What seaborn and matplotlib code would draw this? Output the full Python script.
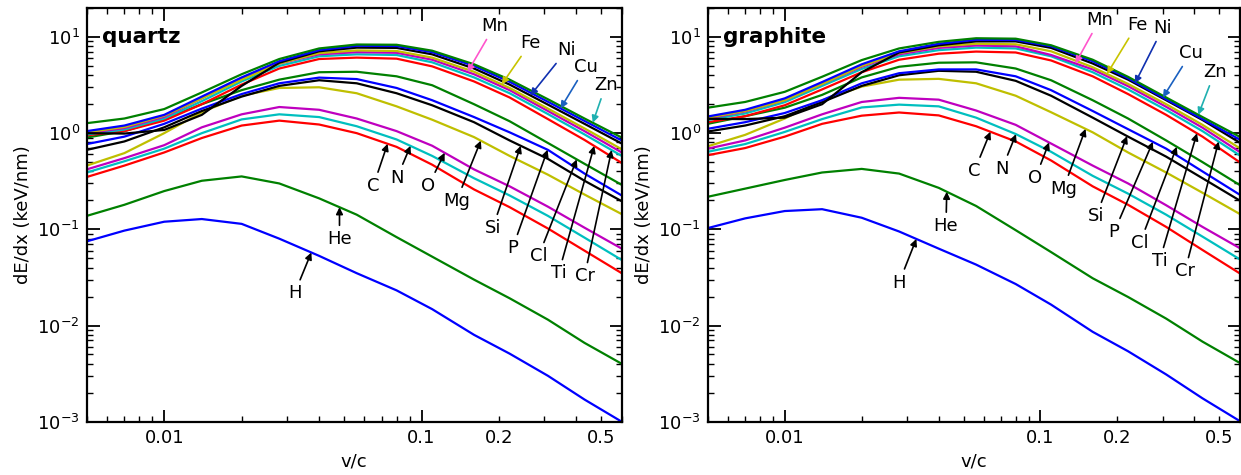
import numpy as np
import pandas as pd
import matplotlib
matplotlib.use('Agg')
import matplotlib.pyplot as plt
import seaborn as sns
from matplotlib.ticker import FixedLocator, FixedFormatter, LogLocator, FuncFormatter

speed = [0.005, 0.007, 0.01, 0.014, 0.02, 0.028, 0.04, 0.056, 0.08, 0.11, 0.16, 0.22, 0.31, 0.43, 0.6]

ions = ['H', 'He', 'C', 'N', 'O', 'Mg', 'Si', 'P', 'Cl', 'Ti', 'Cr', 'Mn', 'Fe', 'Ni', 'Cu', 'Zn']

# quartz, dE/dx in keV/nm
q_H = [0.075, 0.097, 0.120, 0.128, 0.114, 0.080, 0.053, 0.035, 0.0232, 0.0148, 0.0080, 0.0051, 0.0030, 0.0017, 0.00100]
q_He = [0.138, 0.18, 0.25, 0.32, 0.355, 0.30, 0.21, 0.142, 0.083, 0.052, 0.030, 0.0192, 0.0115, 0.0066, 0.0040]
q_C = [0.35, 0.46, 0.63, 0.89, 1.20, 1.35, 1.23, 1.00, 0.72, 0.47, 0.26, 0.17, 0.102, 0.060, 0.035]
q_N = [0.39, 0.51, 0.69, 1.00, 1.39, 1.57, 1.47, 1.18, 0.86, 0.58, 0.34, 0.225, 0.138, 0.082, 0.048]
q_O = [0.42, 0.55, 0.75, 1.15, 1.57, 1.87, 1.75, 1.42, 1.05, 0.74, 0.42, 0.28, 0.172, 0.104, 0.063]
q_Mg = [0.46, 0.62, 1.00, 1.65, 2.45, 2.95, 3.00, 2.60, 1.90, 1.38, 0.91, 0.58, 0.37, 0.23, 0.144]
q_Si = [0.67, 0.82, 1.15, 1.70, 2.40, 3.10, 3.55, 3.30, 2.60, 1.95, 1.30, 0.84, 0.54, 0.32, 0.196]
q_P = [0.77, 0.92, 1.25, 1.80, 2.55, 3.30, 3.78, 3.65, 2.95, 2.20, 1.47, 1.02, 0.67, 0.38, 0.225]
q_Cl = [0.90, 1.05, 1.40, 2.00, 2.80, 3.60, 4.30, 4.35, 3.90, 3.15, 2.00, 1.33, 0.79, 0.48, 0.29]
q_Ti = [0.95, 1.05, 1.35, 2.00, 3.20, 4.70, 5.90, 6.10, 5.95, 4.95, 3.45, 2.35, 1.40, 0.85, 0.49]
q_Cr = [0.97, 1.09, 1.42, 2.15, 3.45, 5.00, 6.30, 6.60, 6.50, 5.45, 3.80, 2.60, 1.58, 0.97, 0.58]
q_Mn = [1.00, 1.13, 1.48, 2.30, 3.70, 5.30, 6.60, 6.95, 6.85, 5.80, 4.10, 2.80, 1.70, 1.05, 0.63]
q_Fe = [1.02, 1.16, 1.52, 2.30, 3.60, 5.30, 6.80, 7.25, 7.15, 6.10, 4.35, 2.95, 1.80, 1.12, 0.68]
q_Ni = [1.00, 0.99, 1.08, 1.55, 3.10, 5.40, 7.10, 7.75, 7.70, 6.60, 4.70, 3.20, 1.98, 1.25, 0.78]
q_Cu = [1.05, 1.20, 1.55, 2.40, 3.80, 5.60, 7.30, 8.10, 8.05, 6.95, 5.00, 3.42, 2.12, 1.34, 0.84]
q_Zn = [1.27, 1.42, 1.78, 2.65, 4.10, 5.90, 7.60, 8.35, 8.30, 7.20, 5.20, 3.60, 2.25, 1.42, 0.90]

# graphite, dE/dx in keV/nm
g_H = [0.103, 0.130, 0.155, 0.162, 0.132, 0.095, 0.063, 0.043, 0.027, 0.0165, 0.0086, 0.0054, 0.0031, 0.00175, 0.00102]
g_He = [0.218, 0.265, 0.326, 0.39, 0.425, 0.38, 0.27, 0.175, 0.098, 0.058, 0.031, 0.0198, 0.0118, 0.0068, 0.0041]
g_C = [0.59, 0.70, 0.92, 1.25, 1.52, 1.64, 1.53, 1.18, 0.82, 0.52, 0.28, 0.18, 0.106, 0.061, 0.035]
g_N = [0.64, 0.77, 1.03, 1.40, 1.85, 1.98, 1.90, 1.45, 0.98, 0.64, 0.36, 0.235, 0.142, 0.084, 0.049]
g_O = [0.69, 0.84, 1.14, 1.57, 2.11, 2.33, 2.23, 1.72, 1.22, 0.78, 0.46, 0.30, 0.178, 0.106, 0.064]
g_Mg = [0.73, 0.96, 1.42, 2.20, 3.05, 3.60, 3.67, 3.30, 2.45, 1.65, 1.02, 0.63, 0.39, 0.24, 0.145]
g_Si = [1.04, 1.20, 1.50, 2.10, 3.10, 4.00, 4.45, 4.35, 3.50, 2.45, 1.45, 0.92, 0.57, 0.34, 0.20]
g_P = [1.11, 1.30, 1.62, 2.20, 3.30, 4.20, 4.60, 4.60, 3.90, 2.80, 1.70, 1.10, 0.69, 0.40, 0.23]
g_Cl = [1.25, 1.50, 1.84, 2.50, 3.80, 4.90, 5.40, 5.45, 4.70, 3.55, 2.20, 1.42, 0.84, 0.50, 0.29]
g_Ti = [1.30, 1.50, 1.95, 2.85, 4.30, 5.80, 6.70, 7.05, 6.90, 5.70, 3.90, 2.55, 1.55, 0.92, 0.50]
g_Cr = [1.37, 1.60, 2.10, 3.10, 4.65, 6.30, 7.30, 7.75, 7.60, 6.30, 4.30, 2.85, 1.74, 1.05, 0.59]
g_Mn = [1.42, 1.68, 2.20, 3.25, 4.90, 6.60, 7.70, 8.15, 8.00, 6.50, 4.60, 3.08, 1.88, 1.14, 0.64]
g_Fe = [1.45, 1.70, 2.20, 3.25, 5.00, 6.80, 8.00, 8.50, 8.40, 7.10, 4.85, 3.25, 2.00, 1.22, 0.70]
g_Ni = [1.41, 1.40, 1.45, 2.00, 4.30, 6.90, 8.20, 9.00, 9.00, 7.70, 5.30, 3.60, 2.20, 1.37, 0.80]
g_Cu = [1.49, 1.75, 2.30, 3.40, 5.20, 7.10, 8.50, 9.35, 9.30, 8.00, 5.60, 3.72, 2.25, 1.40, 0.86]
g_Zn = [1.84, 2.11, 2.69, 3.86, 5.75, 7.60, 8.90, 9.70, 9.60, 8.20, 5.80, 3.85, 2.35, 1.47, 0.92]

quartz = [q_H, q_He, q_C, q_N, q_O, q_Mg, q_Si, q_P, q_Cl, q_Ti, q_Cr, q_Mn, q_Fe, q_Ni, q_Cu, q_Zn]
graphite = [g_H, g_He, g_C, g_N, g_O, g_Mg, g_Si, g_P, g_Cl, g_Ti, g_Cr, g_Mn, g_Fe, g_Ni, g_Cu, g_Zn]

# label text positions and arrow tip speeds (same ion order)
q_lab_x = [0.0321, 0.048, 0.065, 0.0803, 0.1064, 0.1368, 0.189, 0.226, 0.285, 0.341, 0.43, 0.192, 0.265, 0.367, 0.434, 0.52]
q_lab_y = [0.0216, 0.0794, 0.284, 0.344, 0.284, 0.198, 0.1035, 0.064, 0.0527, 0.035, 0.0326, 13.0, 8.66, 7.3, 4.86, 3.15]
q_tip_x = [0.0373, 0.048, 0.0738, 0.0906, 0.123, 0.170, 0.243, 0.309, 0.401, 0.469, 0.548, 0.151, 0.205, 0.265, 0.347, 0.463]

g_lab_x = [0.028, 0.0427, 0.0552, 0.0708, 0.0956, 0.1229, 0.165, 0.194, 0.245, 0.292, 0.367, 0.170, 0.2385, 0.301, 0.387, 0.48]
g_lab_y = [0.028, 0.1087, 0.407, 0.428, 0.344, 0.264, 0.138, 0.094, 0.0726, 0.0468, 0.0367, 15.0, 13.4, 12.4, 6.8, 4.3]
g_tip_x = [0.0327, 0.043, 0.0637, 0.0802, 0.108, 0.150, 0.218, 0.275, 0.341, 0.409, 0.497, 0.137, 0.182, 0.234, 0.301, 0.414]

line_cycle = ['b', 'g', 'r', 'c', 'm', 'y', 'k']
palette = {ion: line_cycle[i % 7] for i, ion in enumerate(ions)}
arrow_colors = {'Mn': '#ff55cc', 'Fe': '#c8c400', 'Ni': '#1030b0', 'Cu': '#1a60c0', 'Zn': '#20b0b0'}

sns.set_style('ticks')
plt.rcParams.update({
    'font.family': ['DejaVu Sans'],
    'font.size': 13,
    'text.color': 'black',
    'axes.labelcolor': 'black',
    'axes.edgecolor': 'black',
    'xtick.color': 'black', 'ytick.color': 'black',
    'axes.linewidth': 1.6,
    'xtick.direction': 'in', 'ytick.direction': 'in',
    'xtick.top': True, 'ytick.right': True,
    'xtick.major.size': 9, 'ytick.major.size': 9,
    'xtick.minor.size': 4.5, 'ytick.minor.size': 4.5,
    'xtick.major.width': 1.3, 'ytick.major.width': 1.3,
    'xtick.minor.width': 1.0, 'ytick.minor.width': 1.0,
    'xtick.labelsize': 13, 'ytick.labelsize': 13,
})


def minor_label(v, pos):
    s = f'{v:g}'
    return s if s in ('0.2', '0.5') else ''


def draw_panel(ax, curves, title, lab_x, lab_y, tip_x):
    ax.set_xscale('log')
    ax.set_yscale('log')
    rows = []
    for ion, vals in zip(ions, curves):
        for v, d in zip(speed, vals):
            rows.append({'v/c': v, 'dEdx': d, 'ion': ion})
    df = pd.DataFrame(rows)
    sns.lineplot(data=df, x='v/c', y='dEdx', hue='ion', hue_order=ions, palette=palette,
                 errorbar=None, legend=False, linewidth=1.6, sort=False, ax=ax)
    ax.set_xlim(0.005, 0.6)
    ax.set_ylim(1e-3, 20)
    ax.xaxis.set_major_locator(FixedLocator([0.01, 0.1]))
    ax.xaxis.set_major_formatter(FixedFormatter(['0.01', '0.1']))
    ax.xaxis.set_minor_locator(LogLocator(base=10, subs=np.arange(2, 10), numticks=20))
    ax.xaxis.set_minor_formatter(FuncFormatter(minor_label))
    ax.yaxis.set_minor_locator(LogLocator(base=10, subs=np.arange(2, 10), numticks=20))
    ax.tick_params(which='both', direction='in', top=True, right=True, pad=5,
                   colors='black')
    ax.set_xlabel('v/c', fontsize=13, labelpad=4)
    ax.set_ylabel('dE/dx (keV/nm)', fontsize=13)
    ax.text(0.028, 0.93, title, transform=ax.transAxes, fontsize=15.5, fontweight='bold',
            ha='left', va='center', color='black')
    for i, ion in enumerate(ions):
        tip_y = np.exp(np.interp(np.log(tip_x[i]), np.log(speed), np.log(curves[i])))
        col = arrow_colors.get(ion, 'black')
        ax.annotate(ion, xy=(tip_x[i], tip_y), xytext=(lab_x[i], lab_y[i]),
                    ha='center', va='center', fontsize=13, color='black',
                    arrowprops=dict(arrowstyle='-|>', color=col, lw=1.2,
                                    mutation_scale=10, shrinkA=1, shrinkB=0))


fig = plt.figure(figsize=(12.41, 4.75), dpi=100)
ax1 = fig.add_axes([0.0699, 0.1122, 0.4311, 0.8709])
ax2 = fig.add_axes([0.5703, 0.1122, 0.4285, 0.8709])
draw_panel(ax1, quartz, 'quartz', q_lab_x, q_lab_y, q_tip_x)
draw_panel(ax2, graphite, 'graphite', g_lab_x, g_lab_y, g_tip_x)

fig.savefig('out.png', dpi=100)
